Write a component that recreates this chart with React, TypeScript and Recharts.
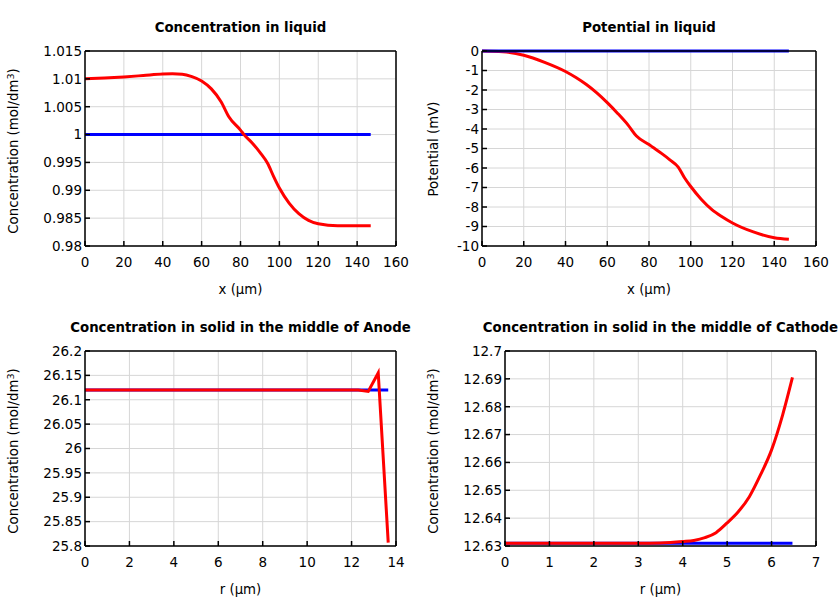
import React from 'react';
import { LineChart, Line, XAxis, YAxis, CartesianGrid } from 'recharts';

// ---- Data: liquid phase along x (µm)
const xLiquid = [0, 10, 20, 30, 40, 45, 50, 55, 60, 65, 70, 74, 80, 82, 86, 90, 94, 97, 100, 105, 110, 115, 120, 130, 140, 147];
const concLiquidInitial = [1, 1, 1, 1, 1, 1, 1, 1, 1, 1, 1, 1, 1, 1, 1, 1, 1, 1, 1, 1, 1, 1, 1, 1, 1, 1];
const concLiquidFinal = [1.01, 1.01015, 1.01035, 1.0106, 1.01085, 1.0109, 1.01083, 1.0104, 1.00963, 1.0082, 1.0059, 1.0032, 1.0008, 0.9999, 0.9985, 0.9968, 0.9948, 0.9925, 0.9904, 0.9877, 0.9858, 0.9846, 0.984, 0.98365, 0.98365, 0.98365];
const potLiquidInitial = [0, 0, 0, 0, 0, 0, 0, 0, 0, 0, 0, 0, 0, 0, 0, 0, 0, 0, 0, 0, 0, 0, 0, 0, 0, 0];
const potLiquidFinal = [0, -0.04, -0.22, -0.58, -1.05, -1.36, -1.72, -2.15, -2.65, -3.2, -3.8, -4.36, -4.8, -4.95, -5.25, -5.58, -5.95, -6.5, -6.95, -7.6, -8.12, -8.5, -8.82, -9.28, -9.58, -9.66];

// ---- Data: solid, middle of anode, along r (µm)
const rAnode = [0, 2, 4, 6, 8, 10, 12, 12.3, 12.75, 13.2, 13.65];
const concAnodeInitial = [26.12, 26.12, 26.12, 26.12, 26.12, 26.12, 26.12, 26.12, 26.12, 26.12, 26.12];
const concAnodeFinal = [26.12, 26.12, 26.12, 26.12, 26.12, 26.12, 26.12, 26.12, 26.117, 26.155, 25.807];

// ---- Data: solid, middle of cathode, along r (µm)
const rCathode = [0, 1, 2, 3, 3.5, 4, 4.25, 4.5, 4.75, 5, 5.25, 5.5, 5.75, 6, 6.25, 6.47];
const concCathodeInitial = [12.631, 12.631, 12.631, 12.631, 12.631, 12.631, 12.631, 12.631, 12.631, 12.631, 12.631, 12.631, 12.631, 12.631, 12.631, 12.631];
const concCathodeFinal = [12.631, 12.631, 12.631, 12.631, 12.6311, 12.6316, 12.632, 12.633, 12.6348, 12.6383, 12.6423, 12.6477, 12.6555, 12.6645, 12.6771, 12.6905];

// ---- Tick labels
const xTicksLiquid = [0, 20, 40, 60, 80, 100, 120, 140, 160];
const yTicksConcLiquid = [0.98, 0.985, 0.99, 0.995, 1, 1.005, 1.01, 1.015];
const yTicksPot = [-10, -9, -8, -7, -6, -5, -4, -3, -2, -1, 0];
const xTicksAnode = [0, 2, 4, 6, 8, 10, 12, 14];
const yTicksAnode = [25.8, 25.85, 25.9, 25.95, 26, 26.05, 26.1, 26.15, 26.2];
const xTicksCathode = [0, 1, 2, 3, 4, 5, 6, 7];
const yTicksCathode = [12.63, 12.64, 12.65, 12.66, 12.67, 12.68, 12.69, 12.7];

const FONT = "'DejaVu Sans', Verdana, sans-serif";

const build = (xs: number[], blue: number[], red: number[]) =>
  xs.map((x, i) => ({ x, blue: blue[i], red: red[i] }));

const fmt = (v: number) => String(Number(v.toFixed(4)));

type PanelProps = {
  left: number;
  top: number;
  plot: { x0: number; x1: number; y0: number; y1: number };
  data: { x: number; blue: number; red: number }[];
  xTicks: number[];
  yTicks: number[];
  title: string;
  xLabel: string;
  yLabel: React.ReactNode;
  yLabelX: number;
  yLabelDy: number;
  blueOnTop: boolean;
  curve: 'monotone' | 'linear';
};

const W = 420;
const H = 300;
const A = 1; // tiny axis band size
const axisStroke = { stroke: '#000', strokeWidth: 1.5 };
const tickStyle = { fill: '#000', fontSize: 13.5, fontFamily: FONT };

function Panel(p: PanelProps) {
  const margin = {
    left: p.plot.x0 - p.left - A,
    right: p.left + W - p.plot.x1 - A,
    top: p.plot.y0 - p.top - A,
    bottom: p.top + H - p.plot.y1 - A,
  };
  const xDomain: [number, number] = [p.xTicks[0], p.xTicks[p.xTicks.length - 1]];
  const yDomain: [number, number] = [p.yTicks[0], p.yTicks[p.yTicks.length - 1]];
  const cx = (p.plot.x0 + p.plot.x1) / 2;
  const cy = (p.plot.y0 + p.plot.y1) / 2;
  const blue = (
    <Line key="blue" xAxisId="b" yAxisId="l" type={p.curve} dataKey="blue" stroke="#0000ff" strokeWidth={3} dot={false} isAnimationActive={false} />
  );
  const red = (
    <Line key="red" xAxisId="b" yAxisId="l" type={p.curve} dataKey="red" stroke="#ff0000" strokeWidth={3} dot={false} isAnimationActive={false} />
  );
  return (
    <>
      <div style={{ position: 'absolute', left: p.left, top: p.top, width: W, height: H }}>
        <LineChart width={W} height={H} margin={margin} data={p.data}>
          <CartesianGrid xAxisId="b" yAxisId="l" stroke="#d6d6d6" strokeWidth={1} />
          <XAxis xAxisId="b" dataKey="x" type="number" domain={xDomain} ticks={p.xTicks} interval={0} height={A}
            tickSize={-5} tickMargin={16} axisLine={axisStroke} tickLine={axisStroke} tick={tickStyle} />
          <XAxis xAxisId="t" orientation="top" dataKey="x" type="number" domain={xDomain} ticks={p.xTicks} interval={0} height={A}
            tickSize={-5} axisLine={axisStroke} tickLine={axisStroke} tick={false} />
          <YAxis yAxisId="l" type="number" domain={yDomain} ticks={p.yTicks} interval={0} width={A}
            tickSize={-5} tickMargin={8} axisLine={axisStroke} tickLine={axisStroke} tick={tickStyle} tickFormatter={fmt} />
          <YAxis yAxisId="r" orientation="right" type="number" domain={yDomain} ticks={p.yTicks} interval={0} width={A}
            tickSize={-5} axisLine={axisStroke} tickLine={axisStroke} tick={false} />
          {p.blueOnTop ? [red, blue] : [blue, red]}
        </LineChart>
      </div>
      <div style={{ position: 'absolute', left: cx, top: p.plot.y0 - 23, transform: 'translate(-50%, -50%)', whiteSpace: 'nowrap',
        fontFamily: FONT, fontWeight: 'bold', fontSize: 13.3, lineHeight: 1, color: '#000' }}>{p.title}</div>
      <div style={{ position: 'absolute', left: cx, top: p.plot.y1 + 44, transform: 'translate(-50%, -50%)', whiteSpace: 'nowrap',
        fontFamily: FONT, fontSize: 13.3, lineHeight: 1, color: '#000' }}>{p.xLabel}</div>
      <div style={{ position: 'absolute', left: p.yLabelX, top: cy + p.yLabelDy, transform: 'translate(-50%, -50%) rotate(-90deg)', whiteSpace: 'nowrap',
        fontFamily: FONT, fontSize: 13.3, lineHeight: 1, color: '#000' }}>{p.yLabel}</div>
    </>
  );
}

const concUnit = (
  <span>Concentration (mol/dm<sup style={{ fontSize: '0.72em', lineHeight: 0, verticalAlign: '0.5em' }}>3</sup>)</span>
);

export default function App() {
  return (
    <div style={{ position: 'absolute', left: 0, top: 0, width: 840, height: 600, background: '#fff', overflow: 'hidden' }}>
      <Panel left={0} top={0} plot={{ x0: 85, x1: 396, y0: 51, y1: 246 }} data={build(xLiquid, concLiquidInitial, concLiquidFinal)}
        xTicks={xTicksLiquid} yTicks={yTicksConcLiquid} title="Concentration in liquid" xLabel="x (µm)" yLabel={concUnit} yLabelX={14} yLabelDy={2}
        blueOnTop={false} curve="monotone" />
      <Panel left={420} top={0} plot={{ x0: 482, x1: 816, y0: 51, y1: 246 }} data={build(xLiquid, potLiquidInitial, potLiquidFinal)}
        xTicks={xTicksLiquid} yTicks={yTicksPot} title="Potential in liquid" xLabel="x (µm)" yLabel="Potential (mV)" yLabelX={434} yLabelDy={0}
        blueOnTop={true} curve="monotone" />
      <Panel left={0} top={300} plot={{ x0: 85, x1: 396, y0: 351, y1: 546 }} data={build(rAnode, concAnodeInitial, concAnodeFinal)}
        xTicks={xTicksAnode} yTicks={yTicksAnode} title="Concentration in solid in the middle of Anode" xLabel="r (µm)" yLabel={concUnit} yLabelX={14} yLabelDy={2}
        blueOnTop={false} curve="linear" />
      <Panel left={420} top={300} plot={{ x0: 505, x1: 816, y0: 351, y1: 546 }} data={build(rCathode, concCathodeInitial, concCathodeFinal)}
        xTicks={xTicksCathode} yTicks={yTicksCathode} title="Concentration in solid in the middle of Cathode" xLabel="r (µm)" yLabel={concUnit} yLabelX={434} yLabelDy={2}
        blueOnTop={false} curve="monotone" />
    </div>
  );
}
